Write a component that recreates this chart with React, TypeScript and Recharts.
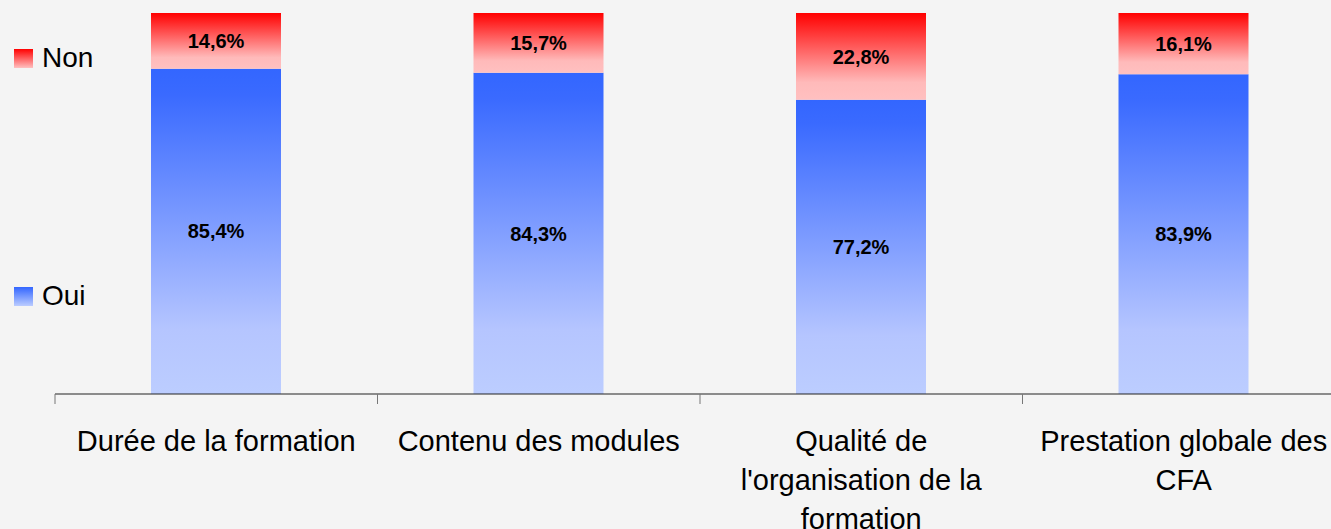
import React from 'react';
import { BarChart, Bar, XAxis, YAxis, LabelList } from 'recharts';

// categories (line breaks follow the original wrapping)
const categories = [
    'Durée de la formation',
    'Contenu des modules',
    "Qualité de\nl'organisation de la\nformation",
    'Prestation globale des\nCFA',
];
const ouiValues = [85.4, 84.3, 77.2, 83.9];
const nonValues = [14.6, 15.7, 22.8, 16.1];

const seriesNames = { oui: 'Oui', non: 'Non' };

const data = categories.map((name, i) => ({
    name,
    oui: ouiValues[i],
    non: nonValues[i],
}));

const CHART_W = 1345;
const CHART_H = 529;
const MARGIN = { top: 13, right: 0, bottom: 0, left: 55 };
const HALF_BAND = (CHART_W - MARGIN.left - MARGIN.right) / categories.length / 2;

const FONT = '"Liberation Sans", Arial, sans-serif';

const fmt = (v: any) => `${Number(v).toFixed(1).replace('.', ',')}%`;

const CategoryTick = ({ x, y, payload }: any) => {
    const lines = String(payload.value).split('\n');
    return (
        <g>
            <line x1={x - HALF_BAND} x2={x - HALF_BAND} y1={y} y2={y + 10} stroke="#777" />
            <text x={x} y={y} textAnchor="middle" fontSize={29} fill="#000" fontFamily={FONT}>
                {lines.map((l, i) => (
                    <tspan key={i} x={x} dy={i === 0 ? 57 : 39}>{l}</tspan>
                ))}
            </text>
        </g>
    );
};

const legendItems = [
    { name: seriesNames.non, bg: 'linear-gradient(#ff0000, #ffc0c0)', top: 44 },
    { name: seriesNames.oui, bg: 'linear-gradient(#3366ff, #bbccff)', top: 282 },
];

export default function App() {
    return (
        <div
            style={{
                position: 'absolute',
                left: 0,
                top: 0,
                width: 1331,
                height: 529,
                overflow: 'hidden',
                background: '#f4f4f4',
                fontFamily: FONT,
            }}
        >
            {legendItems.map(item => (
                <div
                    key={item.name}
                    style={{
                        position: 'absolute',
                        left: 14,
                        top: item.top,
                        height: 28,
                        display: 'flex',
                        alignItems: 'center',
                        fontSize: 28,
                        lineHeight: '28px',
                        color: '#000',
                    }}
                >
                    <span style={{ width: 19, height: 19, background: item.bg, marginRight: 9, display: 'inline-block' }} />
                    <span>{item.name}</span>
                </div>
            ))}
            <div style={{ position: 'absolute', left: 0, top: 0 }}>
                <BarChart width={CHART_W} height={CHART_H} data={data} margin={MARGIN} barSize={130}>
                    <defs>
                        <linearGradient id="gradOui" x1="0" y1="0" x2="0" y2="1">
                            <stop offset="0%" stopColor="#3366ff" />
                            <stop offset="8%" stopColor="#3a6aff" />
                            <stop offset="80%" stopColor="#b5c5ff" />
                            <stop offset="100%" stopColor="#bccdff" />
                        </linearGradient>
                        <linearGradient id="gradNon" x1="0" y1="0" x2="0" y2="1">
                            <stop offset="0%" stopColor="#ff0000" />
                            <stop offset="80%" stopColor="#ffbaba" />
                            <stop offset="100%" stopColor="#ffc0c0" />
                        </linearGradient>
                    </defs>
                    <XAxis
                        dataKey="name"
                        height={135}
                        interval={0}
                        tickLine={false}
                        tickSize={0}
                        tickMargin={0}
                        axisLine={{ stroke: '#222' }}
                        tick={<CategoryTick />}
                    />
                    <YAxis hide domain={[0, 100]} allowDataOverflow />
                    <Bar dataKey="oui" name={seriesNames.oui} stackId="a" fill="url(#gradOui)" isAnimationActive={false}>
                        <LabelList dataKey="oui" position="center" formatter={fmt} fill="#000" fontSize={20} fontWeight="bold" fontFamily={FONT} />
                    </Bar>
                    <Bar dataKey="non" name={seriesNames.non} stackId="a" fill="url(#gradNon)" isAnimationActive={false}>
                        <LabelList dataKey="non" position="center" formatter={fmt} fill="#000" fontSize={20} fontWeight="bold" fontFamily={FONT} />
                    </Bar>
                </BarChart>
            </div>
        </div>
    );
}
